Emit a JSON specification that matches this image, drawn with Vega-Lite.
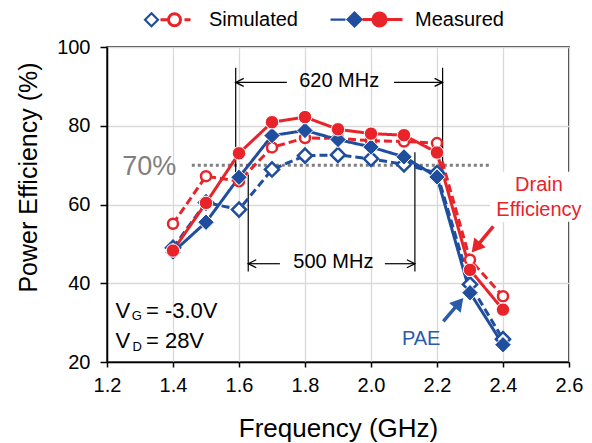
{
  "$schema": "https://vega.github.io/schema/vega-lite/v6.json",
  "autosize": {"type": "none"},
  "padding": {"left": 107, "top": 47, "right": 23, "bottom": 80},
  "width": 462,
  "height": 315,
  "config": {
    "font": "Liberation Sans",
    "view": {"stroke": "black", "strokeWidth": 1.5},
    "axis": {
      "labelFont": "Liberation Sans", "labelFontSize": 20, "labelColor": "black",
      "titleFont": "Liberation Sans", "titleFontSize": 25, "titleFontWeight": "normal", "titleColor": "black",
      "domainColor": "black", "domainWidth": 1.5, "tickColor": "black", "tickWidth": 1.5,
      "gridColor": "#D9D9D9", "gridWidth": 1.3
    },
    "text": {"font": "Liberation Sans"}
  },
  "datasets": {
    "pts": [
      {"f": 1.4, "v": 49.0, "series": "Sim PAE", "grp": "Simulated", "kind": "Sim"}, {"f": 1.5, "v": 60.5, "series": "Sim PAE", "grp": "Simulated", "kind": "Sim"}, {"f": 1.6, "v": 58.7, "series": "Sim PAE", "grp": "Simulated", "kind": "Sim"}, {"f": 1.7, "v": 68.9, "series": "Sim PAE", "grp": "Simulated", "kind": "Sim"}, {"f": 1.8, "v": 72.4, "series": "Sim PAE", "grp": "Simulated", "kind": "Sim"}, {"f": 1.9, "v": 72.6, "series": "Sim PAE", "grp": "Simulated", "kind": "Sim"}, {"f": 2.0, "v": 71.6, "series": "Sim PAE", "grp": "Simulated", "kind": "Sim"}, {"f": 2.1, "v": 70.2, "series": "Sim PAE", "grp": "Simulated", "kind": "Sim"}, {"f": 2.2, "v": 68.0, "series": "Sim PAE", "grp": "Simulated", "kind": "Sim"}, {"f": 2.3, "v": 39.7, "series": "Sim PAE", "grp": "Simulated", "kind": "Sim"}, {"f": 2.4, "v": 25.8, "series": "Sim PAE", "grp": "Simulated", "kind": "Sim"},
      {"f": 1.4, "v": 55.1, "series": "Sim DE", "grp": "Simulated", "kind": "Sim"}, {"f": 1.5, "v": 67.2, "series": "Sim DE", "grp": "Simulated", "kind": "Sim"}, {"f": 1.6, "v": 65.9, "series": "Sim DE", "grp": "Simulated", "kind": "Sim"}, {"f": 1.7, "v": 74.5, "series": "Sim DE", "grp": "Simulated", "kind": "Sim"}, {"f": 1.8, "v": 76.9, "series": "Sim DE", "grp": "Simulated", "kind": "Sim"}, {"f": 1.9, "v": 76.8, "series": "Sim DE", "grp": "Simulated", "kind": "Sim"}, {"f": 2.0, "v": 76.2, "series": "Sim DE", "grp": "Simulated", "kind": "Sim"}, {"f": 2.1, "v": 76.0, "series": "Sim DE", "grp": "Simulated", "kind": "Sim"}, {"f": 2.2, "v": 75.6, "series": "Sim DE", "grp": "Simulated", "kind": "Sim"}, {"f": 2.3, "v": 46.0, "series": "Sim DE", "grp": "Simulated", "kind": "Sim"}, {"f": 2.4, "v": 36.7, "series": "Sim DE", "grp": "Simulated", "kind": "Sim"},
      {"f": 1.4, "v": 47.9, "series": "Meas PAE", "grp": "Measured", "kind": "Meas"}, {"f": 1.5, "v": 55.5, "series": "Meas PAE", "grp": "Measured", "kind": "Meas"}, {"f": 1.6, "v": 66.9, "series": "Meas PAE", "grp": "Measured", "kind": "Meas"}, {"f": 1.7, "v": 77.5, "series": "Meas PAE", "grp": "Measured", "kind": "Meas"}, {"f": 1.8, "v": 78.8, "series": "Meas PAE", "grp": "Measured", "kind": "Meas"}, {"f": 1.9, "v": 76.5, "series": "Meas PAE", "grp": "Measured", "kind": "Meas"}, {"f": 2.0, "v": 74.6, "series": "Meas PAE", "grp": "Measured", "kind": "Meas"}, {"f": 2.1, "v": 72.1, "series": "Meas PAE", "grp": "Measured", "kind": "Meas"}, {"f": 2.2, "v": 67.0, "series": "Meas PAE", "grp": "Measured", "kind": "Meas"}, {"f": 2.3, "v": 37.6, "series": "Meas PAE", "grp": "Measured", "kind": "Meas"}, {"f": 2.4, "v": 24.4, "series": "Meas PAE", "grp": "Measured", "kind": "Meas"},
      {"f": 1.4, "v": 48.3, "series": "Meas DE", "grp": "Measured", "kind": "Meas"}, {"f": 1.5, "v": 60.4, "series": "Meas DE", "grp": "Measured", "kind": "Meas"}, {"f": 1.6, "v": 73.0, "series": "Meas DE", "grp": "Measured", "kind": "Meas"}, {"f": 1.7, "v": 80.9, "series": "Meas DE", "grp": "Measured", "kind": "Meas"}, {"f": 1.8, "v": 82.2, "series": "Meas DE", "grp": "Measured", "kind": "Meas"}, {"f": 1.9, "v": 79.1, "series": "Meas DE", "grp": "Measured", "kind": "Meas"}, {"f": 2.0, "v": 78.0, "series": "Meas DE", "grp": "Measured", "kind": "Meas"}, {"f": 2.1, "v": 77.6, "series": "Meas DE", "grp": "Measured", "kind": "Meas"}, {"f": 2.2, "v": 73.2, "series": "Meas DE", "grp": "Measured", "kind": "Meas"}, {"f": 2.3, "v": 43.4, "series": "Meas DE", "grp": "Measured", "kind": "Meas"}, {"f": 2.4, "v": 33.3, "series": "Meas DE", "grp": "Measured", "kind": "Meas"}
    ],
    "segs": [
      {"x": 1.59, "y": 94.7, "x2": 1.59, "y2": 66.3},
      {"x": 2.217, "y": 94.7, "x2": 2.217, "y2": 67.6},
      {"x": 1.628, "y": 67.6, "x2": 1.628, "y2": 43.0},
      {"x": 2.133, "y": 73.3, "x2": 2.133, "y2": 43.0},
      {"x": 1.59, "y": 91.0, "x2": 1.745, "y2": 91.0},
      {"x": 2.07, "y": 91.0, "x2": 2.217, "y2": 91.0},
      {"x": 1.628, "y": 44.96, "x2": 1.724, "y2": 44.96},
      {"x": 2.042, "y": 44.96, "x2": 2.133, "y2": 44.96}
    ],
    "leftTips": [{"x": 1.59, "y": 91.0}, {"x": 1.628, "y": 44.96}],
    "rightTips": [{"x": 2.217, "y": 91.0}, {"x": 2.133, "y": 44.96}],
    "labels": [
      {"x": 1.9036, "y": 91.26, "t": "620 MHz"},
      {"x": 1.886, "y": 45.35, "t": "500 MHz"}
    ]
  },
  "layer": [
    {
      "data": {"values": [{"x": 2.361, "x2": 2.655, "y": 55.6, "y2": 68.3}]},
      "mark": {"type": "rect", "fill": "white"},
      "encoding": {
        "x": {"field": "x", "type": "quantitative", "scale": {"domain": [1.2, 2.6], "nice": false, "zero": false},
          "axis": {"values": [1.2, 1.4, 1.6, 1.8, 2.0, 2.2, 2.4, 2.6], "format": ".1f", "title": "Frequency (GHz)", "tickSize": 5, "labelPadding": 8, "titlePadding": 20, "titleFontSize": 26, "labelFlush": false, "grid": true}},
        "x2": {"field": "x2"},
        "y": {"field": "y", "type": "quantitative", "scale": {"domain": [20, 100], "nice": false, "zero": false},
          "axis": {"values": [20, 40, 60, 80, 100], "title": "Power Efficiency (%)", "tickSize": 7, "labelPadding": 10, "grid": true, "titleX": -66, "titleY": 130, "titleAlign": "center", "titleBaseline": "bottom", "titleAngle": -90}},
        "y2": {"field": "y2"}
      }
    },
    {
      "data": {"values": [{"x": 1.457, "x2": 2.36, "y": 70}]},
      "mark": {"type": "rule", "stroke": "#7F7F7F", "strokeWidth": 3, "strokeDash": [3, 3]},
      "encoding": {"x": {"field": "x", "type": "quantitative"}, "x2": {"field": "x2"}, "y": {"field": "y", "type": "quantitative"}}
    },
    {
      "data": {"name": "segs"},
      "mark": {"type": "rule", "stroke": "black", "strokeWidth": 1.2},
      "encoding": {"x": {"field": "x", "type": "quantitative"}, "x2": {"field": "x2"}, "y": {"field": "y", "type": "quantitative"}, "y2": {"field": "y2"}}
    },
    {
      "data": {"name": "leftTips"},
      "mark": {"type": "point", "shape": "M2,-1L0,0L2,1", "size": 64, "filled": false, "stroke": "black", "strokeWidth": 1.3, "opacity": 1},
      "encoding": {"x": {"field": "x", "type": "quantitative"}, "y": {"field": "y", "type": "quantitative"}}
    },
    {
      "data": {"name": "rightTips"},
      "mark": {"type": "point", "shape": "M-2,-1L0,0L-2,1", "size": 64, "filled": false, "stroke": "black", "strokeWidth": 1.3, "opacity": 1},
      "encoding": {"x": {"field": "x", "type": "quantitative"}, "y": {"field": "y", "type": "quantitative"}}
    },
    {
      "data": {"name": "labels"},
      "mark": {"type": "text", "fontSize": 20, "color": "black", "align": "center", "baseline": "middle"},
      "encoding": {"x": {"field": "x", "type": "quantitative"}, "y": {"field": "y", "type": "quantitative"}, "text": {"field": "t"}}
    },
    {
      "data": {"values": [{"x": 1.328, "y": 69.6, "t": "70%"}]},
      "mark": {"type": "text", "fontSize": 27, "color": "#7F7F7F", "align": "center", "baseline": "middle"},
      "encoding": {"x": {"field": "x", "type": "quantitative"}, "y": {"field": "y", "type": "quantitative"}, "text": {"field": "t"}}
    },
    {
      "data": {"name": "pts"},
      "mark": {"type": "line"},
      "encoding": {
        "x": {"field": "f", "type": "quantitative"},
        "y": {"field": "v", "type": "quantitative"},
        "color": {"field": "series", "type": "nominal",
          "scale": {"domain": ["Sim PAE", "Sim DE", "Meas PAE", "Meas DE"], "range": ["#1F4E9F", "#E8232A", "#1F4E9F", "#E8232A"]},
          "legend": null},
        "strokeDash": {"field": "series", "type": "nominal",
          "scale": {"domain": ["Sim PAE", "Sim DE", "Meas PAE", "Meas DE"], "range": [[8, 4], [8, 4], [1, 0], [1, 0]]},
          "legend": null},
        "opacity": {"field": "grp", "type": "ordinal",
          "scale": {"domain": ["Simulated", "Measured"], "range": [1, 1]},
          "legend": {
            "orient": "none", "legendX": 74, "legendY": -39, "direction": "horizontal", "columns": 2, "title": null,
            "labelFont": "Liberation Sans", "labelFontSize": 20, "labelColor": "black",
            "symbolSize": 400, "labelOffset": 5, "columnPadding": 26, "padding": 0,
            "encode": {"symbols": {"update": {
              "shape": {"signal": "datum.value == 'Simulated' ? 'M-4.75,0L-4.1,-0.65L-3.45,0L-4.1,0.65ZM-4.9,0M-0.1,0' : 'M-6.8,0H-5.3M-5.1,0L-4.4,-0.7L-3.7,0L-4.4,0.7ZM-6.95,0M0.35,0'"},
              "fill": {"signal": "datum.value == 'Simulated' ? 'white' : '#1F4E9F'"},
              "stroke": {"value": "#1F4E9F"},
              "strokeWidth": {"value": 2.2},
              "opacity": {"value": 1}
            }}}
          }},
        "strokeWidth": {"field": "kind", "type": "ordinal",
          "scale": {"domain": ["Sim", "Meas"], "range": [3, 3]},
          "legend": {
            "orient": "none", "legendX": 74, "legendY": -39, "direction": "horizontal", "columns": 2, "title": null,
            "labelExpr": "datum.value == 'Sim' ? 'Simulated' : 'Measured'",
            "labelFont": "Liberation Sans", "labelFontSize": 20, "labelColor": "black", "labelOpacity": 0,
            "symbolSize": 400, "labelOffset": 5, "columnPadding": 26, "padding": 0,
            "encode": {"symbols": {"update": {
              "shape": {"signal": "datum.value == 'Sim' ? 'M-3.2,0H-2.4M-2.4,0A0.6,0.6,0,1,1,-1.2,0A0.6,0.6,0,1,1,-2.4,0ZM-0.8,0H-0.2M-4.9,0M-0.1,0' : 'M-3.7,0H-2.65M-2.65,0A0.65,0.65,0,1,1,-1.35,0A0.65,0.65,0,1,1,-2.65,0ZM-1.35,0H0.3M-6.95,0M0.35,0'"},
              "fill": {"signal": "datum.value == 'Sim' ? 'white' : '#E8232A'"},
              "stroke": {"value": "#E8232A"},
              "strokeWidth": {"value": 2.2},
              "opacity": {"value": 1}
            }}}
          }}
      }
    },
    {
      "data": {"name": "pts"},
      "transform": [{"filter": "datum.series == 'Sim PAE'"}],
      "mark": {"type": "point", "shape": "diamond", "size": 200, "filled": true, "fill": "white", "stroke": "#1F4E9F", "strokeWidth": 2.5, "opacity": 1},
      "encoding": {"x": {"field": "f", "type": "quantitative"}, "y": {"field": "v", "type": "quantitative"}}
    },
    {
      "data": {"name": "pts"},
      "transform": [{"filter": "datum.series == 'Sim DE'"}],
      "mark": {"type": "point", "shape": "circle", "size": 100, "filled": true, "fill": "white", "stroke": "#E8232A", "strokeWidth": 2.5, "opacity": 1},
      "encoding": {"x": {"field": "f", "type": "quantitative"}, "y": {"field": "v", "type": "quantitative"}}
    },
    {
      "data": {"name": "pts"},
      "transform": [{"filter": "datum.series == 'Meas PAE'"}],
      "mark": {"type": "point", "shape": "diamond", "size": 270, "filled": true, "fill": "#1F4E9F", "stroke": "white", "strokeWidth": 1, "opacity": 1},
      "encoding": {"x": {"field": "f", "type": "quantitative"}, "y": {"field": "v", "type": "quantitative"}}
    },
    {
      "data": {"name": "pts"},
      "transform": [{"filter": "datum.series == 'Meas DE'"}],
      "mark": {"type": "point", "shape": "circle", "size": 180, "filled": true, "fill": "#E8232A", "stroke": "white", "strokeWidth": 1, "opacity": 1},
      "encoding": {"x": {"field": "f", "type": "quantitative"}, "y": {"field": "v", "type": "quantitative"}}
    },
    {
      "data": {"values": [{"x": 2.3706, "y": 54.44, "x2": 2.3177, "y2": 49.1}]},
      "mark": {"type": "rule", "stroke": "#E8232A", "strokeWidth": 3.5},
      "encoding": {"x": {"field": "x", "type": "quantitative"}, "x2": {"field": "x2"}, "y": {"field": "y", "type": "quantitative"}, "y2": {"field": "y2"}}
    },
    {
      "data": {"values": [{"x": 2.3177, "y": 49.1}]},
      "mark": {"type": "point", "shape": "triangle-up", "size": 225, "filled": true, "fill": "#E8232A", "strokeWidth": 0, "angle": 220, "opacity": 1},
      "encoding": {"x": {"field": "x", "type": "quantitative"}, "y": {"field": "y", "type": "quantitative"}}
    },
    {
      "data": {"values": [{"x": 2.2191, "y": 30.33, "x2": 2.267, "y2": 35.0}]},
      "mark": {"type": "rule", "stroke": "#2A5CAA", "strokeWidth": 3.5},
      "encoding": {"x": {"field": "x", "type": "quantitative"}, "x2": {"field": "x2"}, "y": {"field": "y", "type": "quantitative"}, "y2": {"field": "y2"}}
    },
    {
      "data": {"values": [{"x": 2.267, "y": 35.0}]},
      "mark": {"type": "point", "shape": "triangle-up", "size": 225, "filled": true, "fill": "#2A5CAA", "strokeWidth": 0, "angle": 40, "opacity": 1},
      "encoding": {"x": {"field": "x", "type": "quantitative"}, "y": {"field": "y", "type": "quantitative"}}
    },
    {
      "data": {"values": [{"x": 2.509, "y": 64.85, "t": "Drain"}, {"x": 2.509, "y": 58.7, "t": "Efficiency"}]},
      "mark": {"type": "text", "fontSize": 20, "color": "#E8232A", "align": "center", "baseline": "middle"},
      "encoding": {"x": {"field": "x", "type": "quantitative"}, "y": {"field": "y", "type": "quantitative"}, "text": {"field": "t"}}
    },
    {
      "data": {"values": [{"x": 2.152, "y": 25.9, "t": "PAE"}]},
      "mark": {"type": "text", "fontSize": 20, "color": "#2A5CAA", "align": "center", "baseline": "middle"},
      "encoding": {"x": {"field": "x", "type": "quantitative"}, "y": {"field": "y", "type": "quantitative"}, "text": {"field": "t"}}
    },
    {
      "data": {"values": [{"x": 1.2258, "y": 31.2, "t": "V"}, {"x": 1.318, "y": 31.2, "t": "= -3.0V"}, {"x": 1.2258, "y": 23.56, "t": "V"}, {"x": 1.318, "y": 23.56, "t": "= 28V"}]},
      "mark": {"type": "text", "fontSize": 22, "color": "black", "align": "left", "baseline": "alphabetic"},
      "encoding": {"x": {"field": "x", "type": "quantitative"}, "y": {"field": "y", "type": "quantitative"}, "text": {"field": "t"}}
    },
    {
      "data": {"values": [{"x": 1.275, "y": 30.6, "t": "G"}, {"x": 1.277, "y": 22.7, "t": "D"}]},
      "mark": {"type": "text", "fontSize": 13, "color": "black", "align": "left", "baseline": "alphabetic"},
      "encoding": {"x": {"field": "x", "type": "quantitative"}, "y": {"field": "y", "type": "quantitative"}, "text": {"field": "t"}}
    }
  ]
}
